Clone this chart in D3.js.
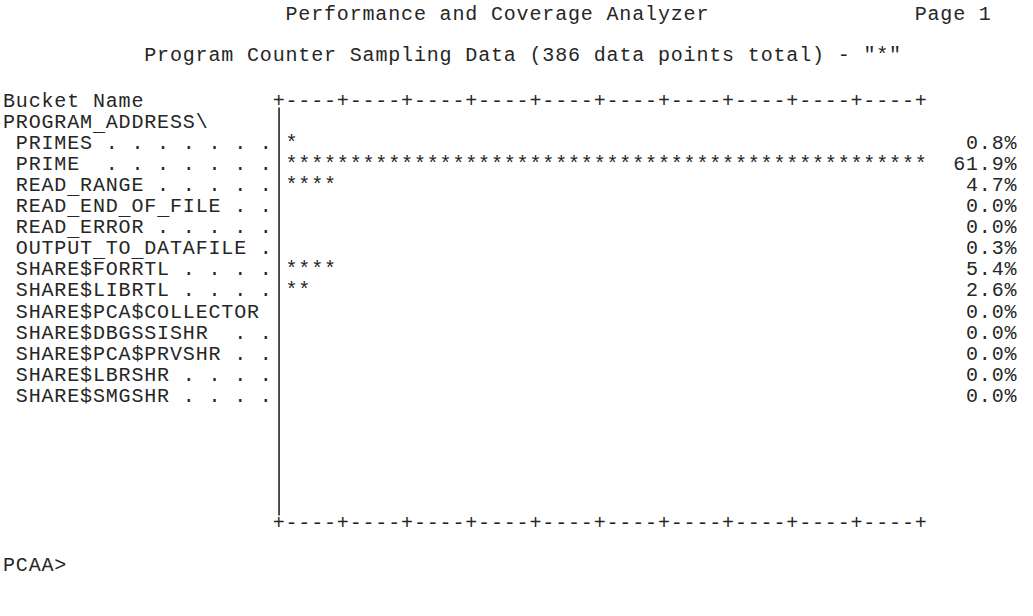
<!DOCTYPE html>
<html>
<head>
<meta charset="utf-8">
<script src="https://cdn.jsdelivr.net/npm/d3@7"></script>
<style>
  html, body { margin: 0; padding: 0; background: #ffffff; }
  svg { display: block; }
  text { font-family: "Liberation Mono", "Courier New", monospace; font-size: 20px; letter-spacing: 0.84px; fill: #262626; white-space: pre; }
</style>
</head>
<body>
<svg id="chart" width="1033" height="616"></svg>
<script>
// ---- data ----
const title = "Performance and Coverage Analyzer";
const pageLabel = "Page 1";
const subtitle = "Program Counter Sampling Data (386 data points total) - \"*\"";
const headerLabel = "Bucket Name";
const groupLabel = "PROGRAM_ADDRESS\\";
const prompt = "PCAA>";
const buckets = [
  "PRIMES", "PRIME", "READ_RANGE", "READ_END_OF_FILE", "READ_ERROR",
  "OUTPUT_TO_DATAFILE", "SHARE$FORRTL", "SHARE$LIBRTL", "SHARE$PCA$COLLECTOR",
  "SHARE$DBGSSISHR", "SHARE$PCA$PRVSHR", "SHARE$LBRSHR", "SHARE$SMGSHR"
];
const percents = [0.8, 61.9, 4.7, 0.0, 0.0, 0.3, 5.4, 2.6, 0.0, 0.0, 0.0, 0.0, 0.0];
const axisSegments = 10;     // "+----" segments on the scale line
const segmentWidth = 5;      // characters per segment
const blankRows = 5;         // empty rows below the last bucket

// ---- layout (character grid) ----
const charW = 12.84;
const pitch = 21.1;
const col = d3.scaleLinear().domain([0, 1]).range([3, 3 + charW]);          // column -> left x
const row = d3.scaleLinear().domain([0, 1]).range([106.5, 106.5 + pitch]);  // row -> baseline y

const barCol = 21;                    // column of "|" and "+"
const starCol = barCol + 1;
const barCols = axisSegments * segmentWidth;  // 50 star columns
const x = d3.scaleLinear().domain([0, d3.max(percents)]).range([0, barCols]);

const svg = d3.select("#chart");
const g = svg.append("g");

// text on the grid; underscores sit low, as on the terminal
function put(c, r, s, anchor, dyOff) {
  const t = g.append("text")
    .attr("x", col(c))
    .attr("y", row(r) + (dyOff || 0))
    .attr("text-anchor", anchor || "start")
    .attr("xml:space", "preserve");
  if (s.indexOf("_") < 0) { t.text(s); return t; }
  const parts = s.split(/(_)/).filter(p => p.length);
  let shifted = false;
  parts.forEach(p => {
    const ts = t.append("tspan").text(p);
    if (p === "_" && !shifted) { ts.attr("dy", 3); shifted = true; }
    else if (p !== "_" && shifted) { ts.attr("dy", -3); shifted = false; }
  });
  return t;
}

// titles
put(22, -4, title, "start", -2);
put(71, -4, pageLabel, "start", -2);
put(11, -2, subtitle, "start", -3);

// header + axis line
const axisStr = d3.range(axisSegments).map(() => "+" + "-".repeat(segmentWidth - 1)).join("") + "+";
put(0, 0, headerLabel);
put(barCol, 0, axisStr);
put(0, 1, groupLabel);

// vertical axis
const lastRow = 2 + buckets.length + blankRows;  // bottom axis row
const barX = col(barCol) + charW / 2;
g.append("line")
  .attr("x1", barX).attr("x2", barX)
  .attr("y1", row(0) + 1).attr("y2", row(lastRow) - 13)
  .attr("stroke", "#262626").attr("stroke-width", 1.6);
put(barCol, lastRow, axisStr);

// bucket labels with leader dots
function leader(name) {
  const end = name.length;  // last char column (label starts at col 1)
  let s = " " + name;
  for (let c = end + 1; c < barCol; c++) s += (c % 2 === 0 && c >= end + 2) ? "." : " ";
  return s;
}
const fmt = d3.format(".1f");
buckets.forEach((b, i) => {
  const r = 2 + i;
  put(0, r, leader(b));
  const n = Math.round(x(percents[i]));
  if (n > 0) put(starCol, r, "*".repeat(n));
  put(79, r, fmt(percents[i]) + "%", "end");
});

// prompt
put(0, lastRow + 2, prompt);
</script>
</body>
</html>
